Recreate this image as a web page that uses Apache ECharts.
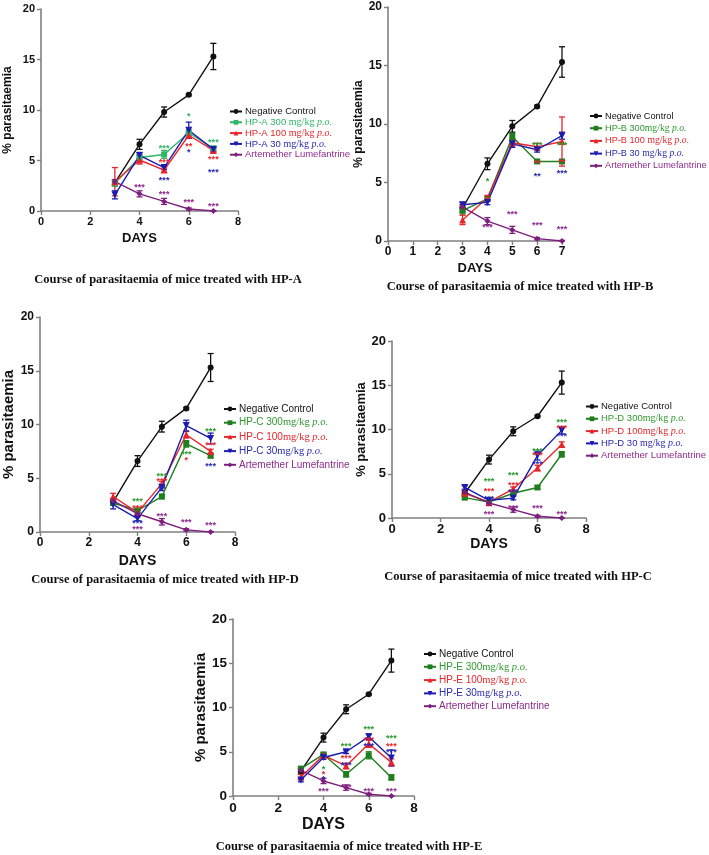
<!DOCTYPE html>
<html><head><meta charset="utf-8">
<script src="https://cdn.jsdelivr.net/npm/echarts@6/dist/echarts.min.js"></script>
<style>html,body{margin:0;padding:0;background:#fff}#c{width:709px;height:855px}</style>
</head><body><div id="c"></div><script>
// ---------- data ----------
const days = [3, 4, 5, 6, 7];
const negativeControl = [2.8, 6.6, 9.8, 11.5, 15.3];
const negativeControlErr = [0.3, 0.5, 0.5, 0.1, 1.3];
const artemether = [2.9, 1.7, 0.95, 0.2, 0.0];
const artemetherErr = [0.2, 0.3, 0.3, 0.1, 0.05];

const hpA300 = [2.75, 5.3, 5.6, 7.75, 6.2];
const hpA100 = [2.9, 5.05, 4.05, 7.5, 6.0];
const hpA30  = [1.6, 5.5, 4.3, 8.0, 6.1];
const hpA300Err = [0.3, 0.3, 0.4, 0.3, 0.2];
const hpA100Err = [1.4, 0.4, 0.2, 0.3, 0.2];
const hpA30Err  = [0.4, 0.3, 0.2, 0.8, 0.2];

const hpB300 = [2.6, 3.6, 8.9, 6.8, 6.8];
const hpB100 = [1.8, 3.7, 8.4, 8.05, 8.5];
const hpB30  = [3.1, 3.3, 8.3, 7.8, 9.0];
const hpB300Err = [0.3, 0.2, 0.3, 0.1, 0.1];
const hpB100Err = [0.4, 0.2, 0.3, 0.3, 2.1];
const hpB30Err  = [0.2, 0.2, 0.3, 0.2, 0.3];

const hpC300 = [2.7, 2.0, 3.3, 8.2, 7.1];
const hpC100 = [3.3, 1.8, 4.5, 9.05, 7.5];
const hpC30  = [2.55, 1.25, 4.15, 9.9, 8.7];
const hpC300Err = [0.2, 0.2, 0.2, 0.3, 0.2];
const hpC100Err = [0.3, 0.2, 0.2, 0.3, 0.2];
const hpC30Err  = [0.4, 0.2, 0.3, 0.5, 0.5];

const hpD300 = [2.3, 1.8, 2.8, 3.45, 7.2];
const hpD100 = [2.8, 1.8, 3.3, 5.65, 8.3];
const hpD30  = [3.45, 2.0, 2.25, 7.05, 9.9];
const hpD300Err = [0.2, 0.1, 0.2, 0.2, 0.3];
const hpD100Err = [0.2, 0.1, 0.2, 0.3, 0.3];
const hpD30Err  = [0.2, 0.1, 0.2, 0.5, 0.4];

const hpE300 = [3.1, 4.7, 2.45, 4.6, 2.1];
const hpE100 = [2.15, 4.6, 3.4, 5.9, 3.8];
const hpE30  = [1.8, 4.35, 5.0, 6.7, 4.3];
const hpE300Err = [0.2, 0.2, 0.3, 0.4, 0.3];
const hpE100Err = [0.3, 0.2, 0.3, 0.4, 0.4];
const hpE30Err  = [0.2, 0.2, 0.2, 0.3, 0.9];

// significance marks: [day, value, text, group]
const starsA = [[5,6.4,'***','g'],[6,9.6,'*','g'],[7,7.0,'***','g'],
  [5,5.0,'***','r'],[6,6.6,'**','r'],[7,5.3,'***','r'],
  [5,3.3,'***','b'],[6,6.0,'*','b'],[7,4.1,'***','b'],
  [4,2.6,'***','p'],[5,1.85,'***','p'],[6,1.1,'***','p'],[7,0.7,'***','p']];
const starsB = [[4,5.3,'*','g'],[6,8.4,'***','g'],[7,8.35,'***','g'],
  [6,6.8,'**','r'],[7,6.9,'**','r'],
  [6,5.7,'**','b'],[7,6.0,'***','b'],
  [4,1.4,'***','p'],[5,2.5,'***','p'],[6,1.5,'***','p'],[7,1.2,'***','p']];
const starsC = [[4,3.1,'***','g'],[5,5.4,'***','g'],[6,7.4,'***','g'],[7,9.6,'***','g'],
  [4,2.4,'***','r'],[5,4.9,'***','r'],[6,6.9,'*','r'],[7,8.3,'***','r'],
  [4,1.05,'***','b'],[5,4.2,'**','b'],[7,6.3,'***','b'],
  [4,0.5,'***','p'],[5,1.7,'***','p'],[6,1.15,'***','p'],[7,0.85,'***','p']];
const starsD = [[4,4.4,'***','g'],[5,5.1,'***','g'],[6,7.8,'***','g'],[7,11.1,'***','g'],
  [4,3.3,'***','r'],[5,4.0,'***','r'],[6,7.3,'***','r'],[7,10.4,'***','r'],
  [4,2.4,'***','b'],[5,3.2,'***','b'],[6,6.3,'***','b'],[7,9.5,'***','b'],
  [4,0.65,'***','p'],[5,1.3,'***','p'],[6,1.4,'***','p'],[7,0.7,'***','p']];
const starsE = [[4,3.3,'*','g'],[5,5.9,'***','g'],[6,7.75,'***','g'],[7,6.8,'***','g'],
  [4,2.7,'*','r'],[5,4.5,'***','r'],[6,6.6,'***','r'],[7,5.9,'***','r'],
  [4,2.1,'*','b'],[5,3.7,'***','b'],[6,5.9,'***','b'],[7,5.2,'***','b'],
  [4,0.8,'***','p'],[5,1.2,'***','p'],[6,0.8,'***','p'],[7,0.8,'***','p']];

const yTicks = [0, 5, 10, 15, 20];
const ncName = 'Negative Control';
const alName = 'Artemether Lumefantrine';
const captions = ['Course of parasitaemia of mice treated with HP-A',
  'Course of parasitaemia of mice treated with HP-B',
  'Course of parasitaemia of mice treated with HP-D',
  'Course of parasitaemia of mice treated with HP-C',
  'Course of parasitaemia of mice treated with HP-E'];

// ---------- styling / layout ----------
const SANS = "'Liberation Sans', Arial, sans-serif";
const NARROW = "'Liberation Sans Narrow', 'Liberation Sans', Arial, sans-serif";
const SERIF = "'Liberation Serif', 'Times New Roman', serif";
const lineCol = {k:'#111111', g:'#1f7f1f', gA:'#2fb566', r:'#e8262a', b:'#1c1cb0', p:'#7d1f7d'};
const textCol = {k:'#111111', g:'#2e9a2e', gA:'#2fb566', r:'#e8262a', b:'#2a2ab0', p:'#8e2b8e'};

const panels = [
  {doses:[['HP-A 300 mg/kg p.o.',hpA300,hpA300Err],['HP-A 100 mg/kg p.o.',hpA100,hpA100Err],['HP-A 30 mg/kg p.o.',hpA30,hpA30Err]],
   stars:starsA, green:'gA', grid:{left:41,top:9,width:197,height:202}, xmax:8, xint:2,
   tickFont:SANS, tickSize:11, yName:12, yGap:27, xName:13, xGap:21,
   legend:{left:229,top:106.5,gap:0.8,size:9.5}, cap:[168,280]},
  {doses:[['HP-B 300mg/kg p.o.',hpB300,hpB300Err],['HP-B 100 mg/kg p.o.',hpB100,hpB100Err],['HP-B 30 mg/kg p.o.',hpB30,hpB30Err]],
   stars:starsB, green:'g', grid:{left:388,top:7,width:174,height:234}, xmax:7, xint:1,
   tickFont:NARROW, tickSize:12, yName:12, yGap:23, xName:13, xGap:21,
   legend:{left:589,top:111.5,gap:2.7,size:9.2}, cap:[520,287]},
  {doses:[['HP-C 300mg/kg p.o.',hpC300,hpC300Err],['HP-C 100mg/kg p.o.',hpC100,hpC100Err],['HP-C 30mg/kg p.o.',hpC30,hpC30Err]],
   stars:starsC, green:'g', grid:{left:40,top:317,width:195,height:215}, xmax:8, xint:2,
   tickFont:SANS, tickSize:12, yName:15, yGap:24, xName:14, xGap:22,
   legend:{left:223,top:404,gap:3.2,size:10}, cap:[165,580]},
  {doses:[['HP-D 300mg/kg p.o.',hpD300,hpD300Err],['HP-D 100mg/kg p.o.',hpD100,hpD100Err],['HP-D 30 mg/kg p.o.',hpD30,hpD30Err]],
   stars:starsD, green:'g', grid:{left:392,top:341,width:194,height:177}, xmax:8, xint:2,
   tickFont:SANS, tickSize:13, yName:13, yGap:24, xName:14, xGap:19,
   legend:{left:585,top:401.5,gap:2.3,size:9.5}, cap:[518,577]},
  {doses:[['HP-E 300mg/kg p.o.',hpE300,hpE300Err],['HP-E 100mg/kg p.o.',hpE100,hpE100Err],['HP-E 30mg/kg p.o.',hpE30,hpE30Err]],
   stars:starsE, green:'g', grid:{left:233,top:619,width:181,height:177}, xmax:8, xint:2,
   tickFont:NARROW, tickSize:13.5, yName:15, yGap:23, xName:16, xGap:21,
   legend:{left:423,top:649,gap:2.3,size:10}, cap:[349,847]}
];

const grids = [], xAxes = [], yAxes = [], series = [], legends = [], graphics = [];
const keyOf = {};

function errSeries(gi, vals, errs, color) {
  return {
    type: 'custom', xAxisIndex: gi, yAxisIndex: gi, silent: true, z: 2,
    data: days.map((d, i) => [d, Math.max(0, vals[i] - errs[i]), vals[i] + errs[i]]),
    encode: {x: 0, y: [1, 2]},
    renderItem(params, api) {
      const x = api.value(0);
      const lo = api.coord([x, api.value(1)]);
      const hi = api.coord([x, api.value(2)]);
      const w = 3, st = {stroke: color, lineWidth: 1.3};
      return {type: 'group', children: [
        {type: 'line', shape: {x1: lo[0], y1: lo[1], x2: hi[0], y2: hi[1]}, style: st},
        {type: 'line', shape: {x1: lo[0]-w, y1: lo[1], x2: lo[0]+w, y2: lo[1]}, style: st},
        {type: 'line', shape: {x1: hi[0]-w, y1: hi[1], x2: hi[0]+w, y2: hi[1]}, style: st}
      ]};
    }
  };
}
function lineSeries(gi, name, vals, color, symbol, rotate, size) {
  return {
    type: 'line', name, xAxisIndex: gi, yAxisIndex: gi, z: 3,
    data: days.map((d, i) => [d, vals[i]]),
    symbol, symbolSize: size, symbolRotate: rotate || 0,
    itemStyle: {color}, lineStyle: {color, width: 1.4},
    emphasis: {disabled: true}, animation: false
  };
}
function makeRich(size) {
  const r = {};
  Object.keys(textCol).forEach(k => {
    r['s' + k] = {fontFamily: NARROW, fontSize: size, color: textCol[k], lineHeight: size + 2};
    r['m' + k] = {fontFamily: SERIF, fontSize: size + 0.5, color: textCol[k], lineHeight: size + 2};
    r['i' + k] = {fontFamily: SERIF, fontStyle: 'italic', fontSize: size + 0.5, color: textCol[k], lineHeight: size + 2};
  });
  return r;
}
function legendFmt(name) {
  const k = keyOf[name];
  const i = name.indexOf('mg/kg');
  if (i < 0) return '{s' + k + '|' + name + '}';
  return '{s' + k + '|' + name.slice(0, i) + '}{m' + k + '|mg/kg}{i' + k + '|' + name.slice(i + 5) + '}';
}

panels.forEach((p, gi) => {
  grids.push(Object.assign({containLabel: false}, p.grid));
  xAxes.push({
    gridIndex: gi, type: 'value', min: 0, max: p.xmax, interval: p.xint,
    name: 'DAYS', nameLocation: 'middle', nameGap: p.xGap,
    nameTextStyle: {fontFamily: SANS, fontWeight: 'bold', fontSize: p.xName, color: '#111'},
    axisLine: {show: true, onZero: false, lineStyle: {color: '#808080', width: 1.6}},
    axisTick: {show: true, length: 4, lineStyle: {color: '#808080', width: 1.4}},
    axisLabel: {fontFamily: p.tickFont, fontWeight: 'bold', fontSize: p.tickSize, color: '#111', margin: 5},
    splitLine: {show: false}
  });
  yAxes.push({
    gridIndex: gi, type: 'value', min: yTicks[0], max: yTicks[yTicks.length - 1], interval: yTicks[1] - yTicks[0],
    name: '% parasitaemia', nameLocation: 'middle', nameGap: p.yGap, nameRotate: 90,
    nameTextStyle: {fontFamily: SANS, fontWeight: 'bold', fontSize: p.yName, color: '#111'},
    axisLine: {show: true, lineStyle: {color: '#808080', width: 1.6}},
    axisTick: {show: true, length: 4, lineStyle: {color: '#808080', width: 1.4}},
    axisLabel: {fontFamily: p.tickFont, fontWeight: 'bold', fontSize: p.tickSize, color: '#111', margin: 6},
    splitLine: {show: false}
  });
  const g = p.green;
  const groups = [
    [ncName, negativeControl, negativeControlErr, 'k', 'circle', 0, 6],
    [p.doses[0][0], p.doses[0][1], p.doses[0][2], g, 'rect', 0, 6],
    [p.doses[1][0], p.doses[1][1], p.doses[1][2], 'r', 'triangle', 0, 7],
    [p.doses[2][0], p.doses[2][1], p.doses[2][2], 'b', 'triangle', 180, 7],
    [alName, artemether, artemetherErr, 'p', 'diamond', 0, 6]
  ];
  const names = [];
  groups.forEach(gr => {
    keyOf[gr[0]] = gr[3];
    names.push(gr[0]);
    series.push(errSeries(gi, gr[1], gr[2], lineCol[gr[3]]));
    series.push(lineSeries(gi, gr[0], gr[1], lineCol[gr[3]], gr[4], gr[5], gr[6]));
  });
  const stars = p.stars;
  series.push({
    type: 'custom', xAxisIndex: gi, yAxisIndex: gi, silent: true, z: 5,
    data: stars.map(s => [s[0], s[1]]),
    encode: {x: 0, y: 1},
    renderItem(params, api) {
      const s = stars[params.dataIndex];
      const pt = api.coord([s[0], s[1]]);
      const key = s[3] === 'g' ? g : s[3];
      return {type: 'text', x: pt[0], y: pt[1] + 2.5,
        style: {text: s[2], fill: textCol[key], font: 'bold 9px ' + SANS, align: 'center', verticalAlign: 'middle'}};
    }
  });
  legends.push({
    data: names, orient: 'vertical', left: p.legend.left, top: p.legend.top,
    itemGap: p.legend.gap, itemWidth: 12, itemHeight: 6, padding: 0,
    selectedMode: false, formatter: legendFmt,
    textStyle: {fontFamily: NARROW, fontSize: p.legend.size, rich: makeRich(p.legend.size), padding: [0, 0, 0, -2]}
  });
  graphics.push({
    type: 'text', x: p.cap[0], y: p.cap[1],
    style: {text: captions[gi], font: 'bold 12.5px ' + SERIF, fill: '#111', align: 'center', verticalAlign: 'middle'}
  });
});

const chart = echarts.init(document.getElementById('c'), null, {renderer: 'canvas'});
chart.setOption({
  backgroundColor: '#ffffff', animation: false,
  grid: grids, xAxis: xAxes, yAxis: yAxes, legend: legends, series, graphic: graphics
});
</script></body></html>
